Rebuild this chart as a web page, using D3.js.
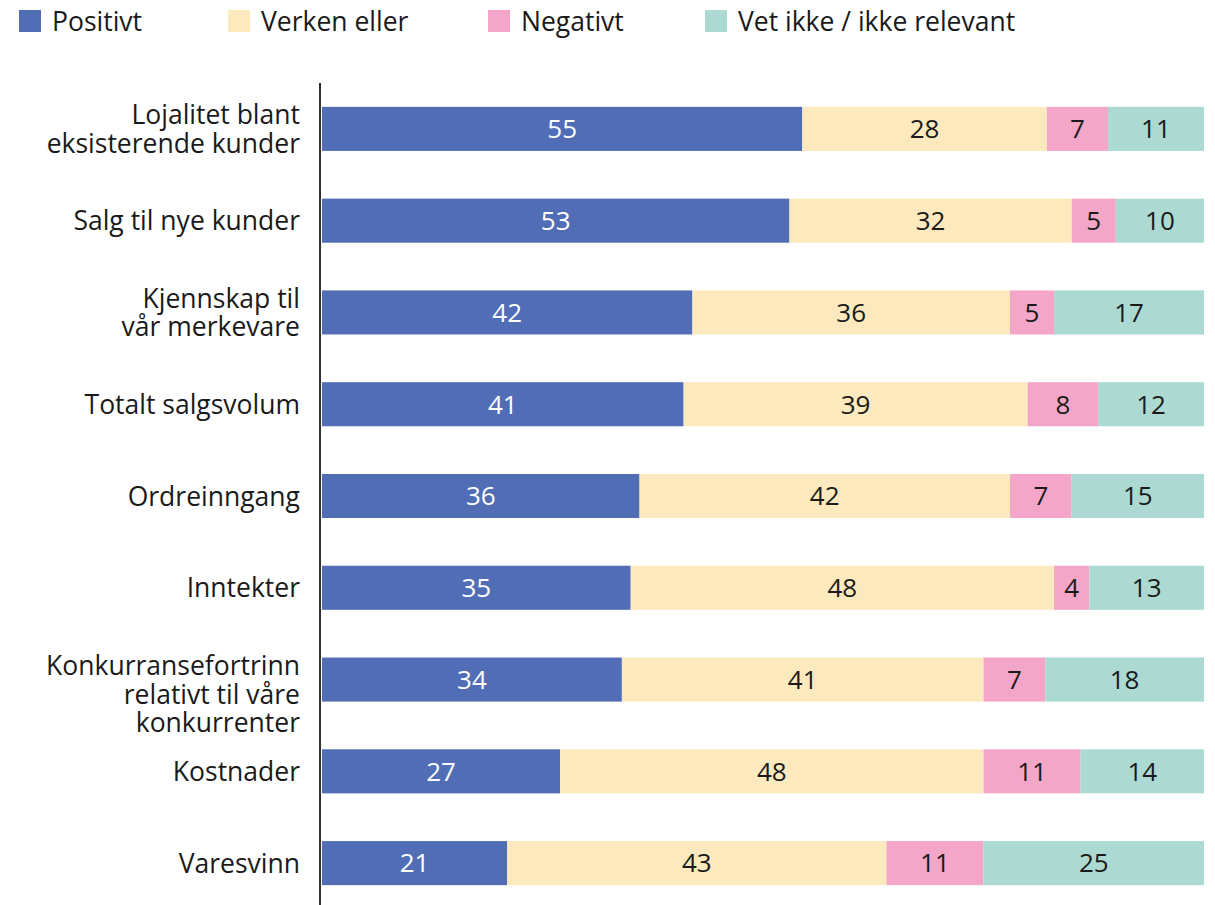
<!DOCTYPE html>
<html>
<head>
<meta charset="utf-8">
<script src="https://cdn.jsdelivr.net/npm/d3@7"></script>
<style>
  body { margin: 0; background: #fff; }
  svg text { font-family: "Open Sans", sans-serif; }
</style>
</head>
<body>
<svg width="1215" height="905"></svg>
<script>
// categories (label lines) and series values
const categories = [
    ["Lojalitet blant", "eksisterende kunder"],
    ["Salg til nye kunder"],
    ["Kjennskap til", "vår merkevare"],
    ["Totalt salgsvolum"],
    ["Ordreinngang"],
    ["Inntekter"],
    ["Konkurransefortrinn", "relativt til våre", "konkurrenter"],
    ["Kostnader"],
    ["Varesvinn"]
];
const seriesNames = ["Positivt", "Verken eller", "Negativt", "Vet ikke / ikke relevant"];
const positivt = [55, 53, 42, 41, 36, 35, 34, 27, 21];
const verken   = [28, 32, 36, 39, 42, 48, 41, 48, 43];
const negativt = [7, 5, 5, 8, 7, 4, 7, 11, 11];
const vetIkke  = [11, 10, 17, 12, 15, 13, 18, 14, 25];
const colors = ["#516db5", "#fde9be", "#f4a6c8", "#acdad2"];
const textColors = ["#ffffff", "#1a1a1a", "#1a1a1a", "#1a1a1a"];

const rows = categories.map((c, i) => ({
    key: i,
    lines: c,
    s0: positivt[i], s1: verken[i], s2: negativt[i], s3: vetIkke[i]
}));
const keys = ["s0", "s1", "s2", "s3"];

const svg = d3.select("svg");
const plotLeft = 322, plotRight = 1204, plotTop = 83, plotBottom = 909;

const stack = d3.stack().keys(keys).offset(d3.stackOffsetExpand);
const layers = stack(rows);

const x = d3.scaleLinear().domain([0, 1]).range([plotLeft, plotRight]);
const y = d3.scaleBand().domain(rows.map(d => d.key)).range([plotTop, plotBottom]).paddingInner(0.52).paddingOuter(0.26);

// bars
const layer = svg.append("g").selectAll("g")
    .data(layers)
    .enter().append("g")
    .attr("fill", (d, i) => colors[i]);

layer.selectAll("rect")
    .data(d => d)
    .enter().append("rect")
    .attr("x", d => x(d[0]))
    .attr("y", d => y(d.data.key))
    .attr("width", d => x(d[1]) - x(d[0]))
    .attr("height", y.bandwidth());

// value labels
layer.selectAll("text")
    .data((d, i) => d.map(v => ({ v, i, val: v.data[keys[i]] })))
    .enter().append("text")
    .attr("x", d => (x(d.v[0]) + x(d.v[1])) / 2)
    .attr("y", d => y(d.v.data.key) + y.bandwidth() / 2)
    .attr("dy", "0.36em")
    .attr("text-anchor", "middle")
    .attr("font-size", 26)
    .attr("fill", d => textColors[d.i])
    .text(d => d.val);

// axis line
svg.append("line")
    .attr("x1", 320).attr("x2", 320)
    .attr("y1", plotTop).attr("y2", 905)
    .attr("stroke", "#333")
    .attr("stroke-width", 2);

// category labels
const labels = svg.append("g").selectAll("text")
    .data(rows)
    .enter().append("text")
    .attr("text-anchor", "end")
    .attr("font-size", 26.5)
    .attr("fill", "#1a1a1a");

labels.each(function(d) {
    const cy = y(d.key) + y.bandwidth() / 2;
    const start = d.lines.length > 1 ? cy - 14 : cy;
    d3.select(this).selectAll("tspan")
        .data(d.lines)
        .enter().append("tspan")
        .attr("x", 300)
        .attr("y", (l, j) => start + j * 28.5)
        .attr("dy", "0.36em")
        .text(l => l);
});

// legend
const legendX = [19, 228, 488, 705];
const legend = svg.append("g").selectAll("g")
    .data(seriesNames)
    .enter().append("g")
    .attr("transform", (d, i) => `translate(${legendX[i]},10)`);

legend.append("rect")
    .attr("width", 22)
    .attr("height", 22)
    .attr("fill", (d, i) => colors[i]);

legend.append("text")
    .attr("x", 33)
    .attr("y", 11)
    .attr("dy", "0.36em")
    .attr("font-size", 26.5)
    .attr("fill", "#1a1a1a")
    .text(d => d);
</script>
</body>
</html>
